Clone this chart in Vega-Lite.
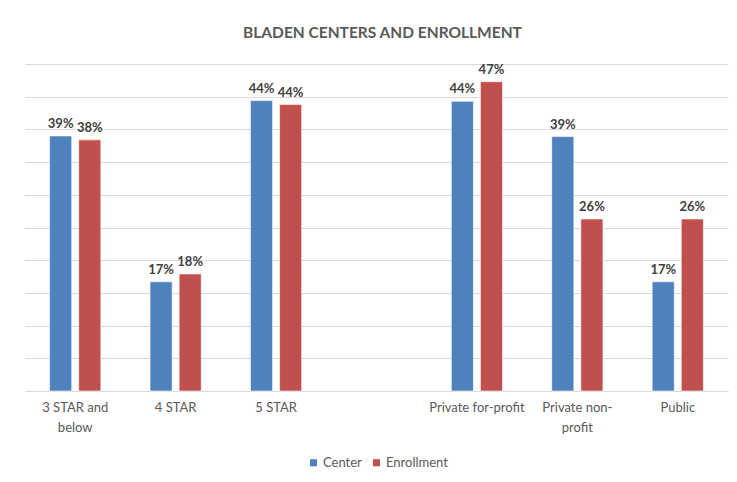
{
  "$schema": "https://vega.github.io/schema/vega-lite/v6.json",
  "width": 703,
  "height": 327,
  "autosize": "none",
  "padding": {"left": 25, "top": 64, "right": 9, "bottom": 91},
  "background": "white",
  "title": {"text": "BLADEN CENTERS AND ENROLLMENT", "fontSize": 15.5, "fontWeight": "bold", "color": "#595959", "font": "Lato", "anchor": "middle", "offset": 22, "dx": 6},
  "config": {"view": {"stroke": null}},
  "data": {"values": [
    {"category": "3 STAR and below", "series": "Center", "value": 0.39},
    {"category": "3 STAR and below", "series": "Enrollment", "value": 0.384},
    {"category": "4 STAR", "series": "Center", "value": 0.167},
    {"category": "4 STAR", "series": "Enrollment", "value": 0.179},
    {"category": "5 STAR", "series": "Center", "value": 0.444},
    {"category": "5 STAR", "series": "Enrollment", "value": 0.438},
    {"category": "Private for-profit", "series": "Center", "value": 0.443},
    {"category": "Private for-profit", "series": "Enrollment", "value": 0.473},
    {"category": "Private non-profit", "series": "Center", "value": 0.389},
    {"category": "Private non-profit", "series": "Enrollment", "value": 0.263},
    {"category": "Public", "series": "Center", "value": 0.167},
    {"category": "Public", "series": "Enrollment", "value": 0.263}
  ]},
  "encoding": {
    "x": {
      "field": "category", "type": "nominal", "title": null,
      "scale": {"domain": ["3 STAR and below", "4 STAR", "5 STAR", "(gap)", "Private for-profit", "Private non-profit", "Public"], "paddingInner": 0.49, "paddingOuter": 0.245},
      "axis": {
        "labelAngle": 0, "ticks": false, "domain": true, "domainColor": "#d9d9d9", "domainWidth": 1,
        "labelFont": "Lato", "labelFontSize": 13, "labelColor": "#595959", "labelPadding": 10, "labelLineHeight": 20,
        "labelExpr": "datum.label == '(gap)' ? '' : datum.label == '3 STAR and below' ? ['3 STAR and', 'below'] : datum.label == 'Private non-profit' ? ['Private non-', 'profit'] : datum.label"
      }
    },
    "xOffset": {"field": "series", "type": "nominal", "scale": {"domain": ["Center", "Enrollment"], "paddingInner": 0.24}},
    "y": {
      "field": "value", "type": "quantitative", "title": null,
      "scale": {"domain": [0, 0.5]},
      "axis": {"values": [0, 0.05, 0.1, 0.15, 0.2, 0.25, 0.3, 0.35, 0.4, 0.45, 0.5], "labels": false, "ticks": false, "domain": false, "grid": true, "gridColor": "#d9d9d9", "gridWidth": 1}
    }
  },
  "layer": [
    {
      "mark": {"type": "bar", "stroke": "#ffffff", "strokeWidth": 0.6},
      "encoding": {
        "color": {
          "field": "series", "type": "nominal",
          "scale": {"domain": ["Center", "Enrollment"], "range": ["#4F81BD", "#C0504D"]},
          "legend": {"title": null, "orient": "none", "legendX": 282, "legendY": 392, "direction": "horizontal", "symbolType": "square", "symbolSize": 50, "labelFont": "Lato", "labelFontSize": 13, "labelColor": "#595959", "columnPadding": 8, "labelOffset": 3, "symbolStrokeWidth": 0}
        }
      }
    },
    {
      "mark": {"type": "text", "font": "Lato", "fontWeight": "bold", "fontSize": 13, "color": "#404040", "baseline": "alphabetic", "dy": -8},
      "encoding": {"text": {"field": "value", "type": "quantitative", "format": ".0%"}}
    }
  ]
}
